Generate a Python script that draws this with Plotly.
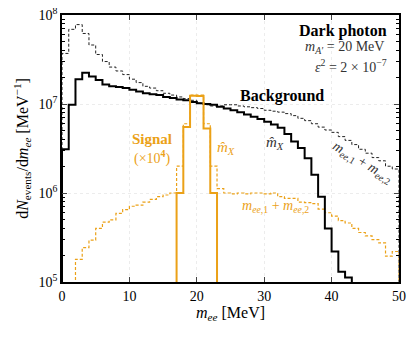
import plotly.graph_objects as go

# ---------------- data (1 MeV bins) ----------------
bkg_mhat_start = 0
bkg_mhat = [3.1e6, 9.8e6, 1.9e7, 2.24e7, 2.04e7, 1.86e7, 1.66e7, 1.58e7, 1.55e7, 1.51e7,
            1.45e7, 1.38e7, 1.32e7, 1.29e7, 1.26e7, 1.20e7, 1.17e7, 1.12e7, 1.10e7, 1.05e7,
            1.02e7, 1.0e7, 9.8e6, 9.3e6, 8.9e6, 8.5e6, 8.1e6, 7.6e6, 7.2e6, 6.8e6,
            6.3e6, 5.9e6, 5.4e6, 4.6e6, 3.8e6, 3.2e6, 2.45e6, 1.6e6, 9.1e5, 4.0e5,
            2.2e5, 1.3e5, 1.12e5]

bkg_sum_start = 0
bkg_sum = [3.7e7, 6.9e7, 7.8e7, 6.2e7, 4.6e7, 3.6e7, 3.0e7, 2.6e7, 2.35e7, 2.14e7,
           1.9e7, 1.74e7, 1.58e7, 1.51e7, 1.41e7, 1.32e7, 1.26e7, 1.2e7, 1.15e7, 1.10e7,
           1.02e7, 9.8e6, 9.5e6, 9.5e6, 9.8e6, 9.8e6, 9.5e6, 9.3e6, 9.1e6, 8.9e6,
           8.5e6, 8.3e6, 8.1e6, 7.8e6, 7.4e6, 6.9e6, 6.5e6, 6.0e6, 5.5e6, 5.1e6,
           4.8e6, 4.3e6, 3.9e6, 3.5e6, 3.1e6, 2.8e6, 2.5e6, 2.3e6, 2.0e6, 1.86e6]

sig_mhat_start = 17
sig_mhat = [1.0e6, 5.5e6, 1.24e7, 1.23e7, 5.3e6, 1.0e6]

sig_sum_start = 2
sig_sum = [1.8e5, 2.43e5, 2.95e5, 4.0e5, 4.7e5, 5.0e5, 5.9e5, 6.5e5, 7.1e5, 7.3e5,
           7.9e5, 8.5e5, 9.1e5, 9.5e5, 1.0e6, 2.0e6, 6.0e6, 1.26e7, 1.26e7, 6.0e6,
           2.0e6, 1.12e6, 1.0e6, 9.8e5, 1.0e6, 9.8e5, 1.0e6, 1.0e6, 9.8e5, 1.0e6,
           9.1e5, 8.7e5, 8.7e5, 7.9e5, 7.8e5, 7.6e5, 6.6e5, 6.0e5, 5.5e5, 4.9e5,
           4.6e5, 4.0e5, 3.6e5, 3.3e5, 3.0e5, 2.75e5, 1.95e5, 2.2e5]

bin_width = 1.0
floor_value = 1e3  # below the axis range: draws the drop to the bottom edge

x_ticks = [0, 10, 20, 30, 40, 50]
y_ticks = [1e5, 1e6, 1e7, 1e8]
y_ticktext = ["10<sup>5</sup>", "10<sup>6</sup>", "10<sup>7</sup>", "10<sup>8</sup>"]

BLACK = "#000000"
ORANGE = "#EBA117"
FONT = "Times New Roman"

# page offset (browser body margin) and plot geometry
OFF = 8
W, H = 416 - OFF, 337 - OFF
ML, MR, MT, MB = 54, 17, 7, 55
PW, PH = W - ML - MR, H - MT - MB


def step_xy(start, values):
    edges = [start + i * bin_width for i in range(len(values) + 1)]
    xs = [edges[0]] + edges + [edges[-1]]
    ys = [floor_value] + list(values) + [values[-1], floor_value]
    return xs, ys


fig = go.Figure()


def add_step(start, values, color, width, dash):
    xs, ys = step_xy(start, values)
    fig.add_trace(go.Scatter(x=xs, y=ys, mode="lines", line_shape="hv",
                             line=dict(color=color, width=width, dash=dash),
                             showlegend=False, hoverinfo="skip"))


add_step(sig_sum_start, sig_sum, ORANGE, 1.2, "3px,2px")
add_step(bkg_sum_start, bkg_sum, "#222222", 1.0, "3px,2px")
add_step(bkg_mhat_start, bkg_mhat, BLACK, 2.0, "solid")
add_step(sig_mhat_start, sig_mhat, ORANGE, 2.0, "solid")

minor_vals = [m * 10 ** e for e in range(5, 8) for m in range(2, 10)]

fig.update_layout(
    width=W, height=H,
    margin=dict(l=ML, r=MR, t=MT, b=MB, autoexpand=False),
    paper_bgcolor="white", plot_bgcolor="white",
    font=dict(family=FONT, size=14, color="black"),
    xaxis=dict(
        range=[0, 50], tickvals=x_ticks, ticks="inside", ticklen=5, tickwidth=1,
        showline=True, linecolor="black", linewidth=1.5, mirror="ticks",
        showgrid=True, gridcolor="#ececec", griddash="dot", gridwidth=0.8,
        zeroline=False, tickfont=dict(size=14, family=FONT), automargin=False,
        ticklabeloverflow="allow",
        title=dict(text="<i>m</i><sub><i>ee</i></sub> [MeV]", font=dict(size=16, family=FONT), standoff=4),
    ),
    yaxis=dict(
        type="log", range=[5, 8], tickvals=y_ticks, ticktext=y_ticktext,
        ticks="inside", ticklen=5, tickwidth=1,
        showline=True, linecolor="black", linewidth=1.5, mirror="ticks",
        showgrid=True, gridcolor="#ececec", griddash="dot", gridwidth=0.8,
        zeroline=False, tickfont=dict(size=14, family=FONT), automargin=False,
        ticklabeloverflow="allow",
        minor=dict(tickvals=minor_vals, ticks="inside", ticklen=3, tickwidth=0.8,
                   tickcolor="black", showgrid=False),
        title=dict(text="d<i>N</i><sub>events</sub>/d<i>m</i><sub><i>ee</i></sub> [MeV<sup>−1</sup>]",
                   font=dict(size=16, family=FONT), standoff=6),
    ),
)

ann = [
    dict(x=389, y=31, text="<b>Dark photon</b>", xanchor="right", size=16, color=BLACK, angle=0),
    dict(x=386, y=48, text="<i>m</i><sub><i>A′</i></sub> = 20 MeV", xanchor="right", size=14, color="#333333", angle=0),
    dict(x=389, y=66, text="<i>ε</i><sup>2</sup> = 2 × 10<sup>−7</sup>", xanchor="right", size=14, color="#333333", angle=0),
    dict(x=282, y=96, text="<b>Background</b>", xanchor="center", size=16, color=BLACK, angle=0),
    dict(x=275, y=143, text="<i>m\u0302</i><sub><i>X</i></sub>", xanchor="center", size=15, color="#333333", angle=0),
    dict(x=362, y=162, text="<i>m</i><sub><i>ee</i>,1</sub> + <i>m</i><sub><i>ee</i>,2</sub>", xanchor="center", size=14, color="#333333", angle=31),
    dict(x=152, y=139, text="<b>Signal</b>", xanchor="center", size=15, color=ORANGE, angle=0),
    dict(x=152, y=157, text="(×10<sup><b>4</b></sup>)", xanchor="center", size=14, color=ORANGE, angle=0),
    dict(x=226, y=148, text="<i>m\u0302</i><sub><i>X</i></sub>", xanchor="center", size=15, color=ORANGE, angle=0),
    dict(x=275, y=206, text="<i>m</i><sub><i>ee</i>,1</sub> + <i>m</i><sub><i>ee</i>,2</sub>", xanchor="center", size=14, color=ORANGE, angle=0),
]
for a in ann:
    fig.add_annotation(
        xref="paper", yref="paper",
        x=(a["x"] - OFF - ML) / PW, y=1 - (a["y"] - OFF - MT) / PH,
        text=a["text"], showarrow=False, xanchor=a["xanchor"], yanchor="middle",
        textangle=a["angle"], font=dict(size=a["size"], color=a["color"], family=FONT),
    )

fig.write_html("out.html")
